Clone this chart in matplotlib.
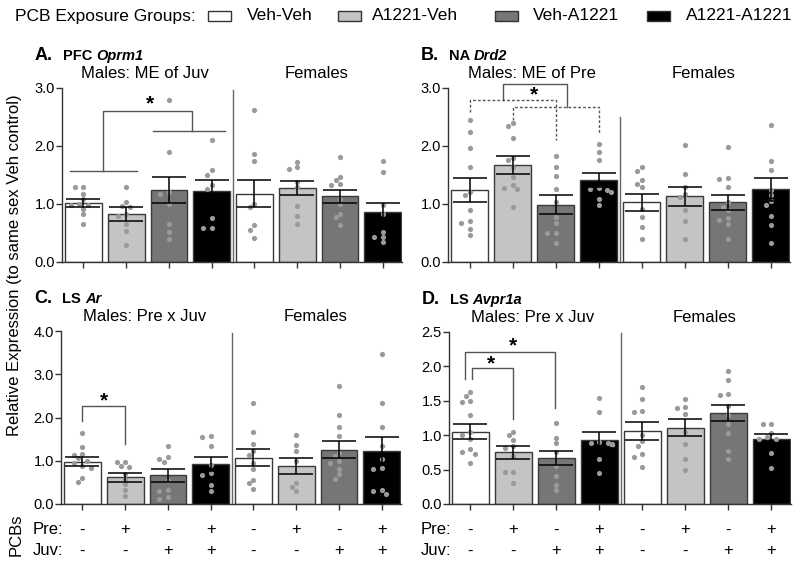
import numpy as np
import matplotlib.pyplot as plt
from matplotlib.patches import Rectangle
from matplotlib.transforms import blended_transform_factory

plt.rcParams['font.family'] = ['Liberation Sans', 'DejaVu Sans']

# groups, in bar order: males x4 then females x4
groups = ["Veh-Veh", "A1221-Veh", "Veh-A1221", "A1221-A1221"]
bar_colors = ["white", "#c4c4c4", "#767676", "black"]
pre_signs = ["-", "+", "-", "+", "-", "+", "-", "+"]
juv_signs = ["-", "-", "+", "+", "-", "-", "+", "+"]

# A. PFC Oprm1
pfc_means = [1.01, 0.82, 1.24, 1.22, 1.18, 1.28, 1.13, 0.86]
pfc_sems = [0.07, 0.12, 0.22, 0.19, 0.23, 0.12, 0.11, 0.16]
pfc_dots = [
    [1.29, 1.29, 1.18, 1.08, 1.00, 0.99, 0.99, 0.92, 0.83, 0.66],
    [1.29, 1.03, 0.96, 0.95, 0.83, 0.79, 0.66, 0.53, 0.29],
    [2.80, 1.90, 1.20, 1.18, 1.00, 0.66, 0.52, 0.39],
    [2.10, 1.58, 1.50, 1.32, 1.26, 0.76, 0.59, 0.59],
    [2.62, 1.86, 1.74, 1.00, 0.95, 0.63, 0.55, 0.42],
    [1.72, 1.63, 1.60, 1.38, 1.29, 0.96, 0.80, 0.65],
    [1.81, 1.47, 1.41, 1.35, 1.33, 1.09, 1.00, 0.83, 0.78, 0.63],
    [1.74, 1.56, 0.99, 0.83, 0.52, 0.43, 0.43, 0.34],
]

# B. NA Drd2
na_means = [1.24, 1.67, 0.99, 1.41, 1.03, 1.13, 1.03, 1.25]
na_sems = [0.20, 0.16, 0.17, 0.12, 0.15, 0.16, 0.13, 0.19]
na_dots = [
    [2.45, 2.24, 1.97, 1.63, 1.21, 1.15, 0.89, 0.71, 0.67, 0.57, 0.46],
    [2.40, 2.34, 2.14, 1.80, 1.75, 1.63, 1.47, 1.32, 1.28, 1.25, 0.95],
    [1.82, 1.64, 1.49, 1.25, 1.03, 0.78, 0.67, 0.50, 0.50, 0.32],
    [2.04, 1.90, 1.75, 1.28, 1.25, 1.24, 1.21, 1.09, 0.99],
    [1.64, 1.57, 1.41, 1.34, 1.29, 0.92, 0.78, 0.61, 0.39],
    [2.01, 1.51, 1.29, 1.17, 1.12, 0.89, 0.71, 0.39],
    [1.99, 1.45, 1.43, 1.29, 1.03, 0.95, 0.89, 0.75, 0.72, 0.66, 0.39],
    [2.36, 1.74, 1.58, 1.24, 1.15, 1.06, 0.98, 0.80, 0.63, 0.33],
]

# C. LS Ar
ar_means = [0.98, 0.62, 0.66, 0.92, 1.07, 0.88, 1.26, 1.23]
ar_sems = [0.10, 0.10, 0.14, 0.16, 0.20, 0.19, 0.19, 0.33]
ar_dots = [
    [1.65, 1.32, 1.16, 1.14, 1.06, 1.00, 0.95, 0.88, 0.84, 0.60, 0.52],
    [0.97, 0.96, 0.88, 0.86, 0.70, 0.58, 0.46, 0.33, 0.19],
    [1.34, 1.08, 1.05, 0.98, 0.55, 0.33, 0.30, 0.15, 0.12],
    [1.58, 1.55, 1.33, 0.90, 0.72, 0.68, 0.45, 0.30],
    [2.33, 1.66, 1.39, 1.22, 1.14, 0.95, 0.81, 0.56, 0.48, 0.35],
    [1.60, 1.36, 1.22, 1.00, 0.48, 0.40, 0.30],
    [2.74, 2.06, 1.79, 1.58, 1.18, 1.10, 1.00, 0.95, 0.81, 0.69, 0.58],
    [3.46, 2.33, 1.77, 1.33, 1.04, 0.83, 0.81, 0.33, 0.29, 0.23],
]

# D. LS Avpr1a
avp_means = [1.05, 0.75, 0.67, 0.93, 1.06, 1.11, 1.32, 0.95]
avp_sems = [0.11, 0.09, 0.10, 0.11, 0.13, 0.12, 0.12, 0.07]
avp_dots = [
    [1.63, 1.57, 1.50, 1.48, 1.29, 1.04, 1.00, 0.95, 0.80, 0.76, 0.73, 0.59],
    [1.05, 1.00, 0.93, 0.84, 0.82, 0.70, 0.47, 0.47, 0.30],
    [1.17, 0.96, 0.88, 0.75, 0.55, 0.40, 0.28, 0.20],
    [1.54, 1.33, 0.90, 0.89, 0.88, 0.87, 0.86, 0.66, 0.45],
    [1.70, 1.52, 1.35, 1.34, 1.00, 0.91, 0.84, 0.72, 0.69, 0.54],
    [1.53, 1.41, 1.40, 1.31, 1.05, 0.87, 0.65, 0.50],
    [1.94, 1.80, 1.60, 1.58, 1.42, 1.29, 1.16, 1.03, 0.77, 0.65],
    [1.16, 1.16, 1.03, 0.98, 0.95, 0.95, 0.74, 0.53],
]

# significance brackets: (x_left, x_right, top, left_end, right_end, linestyle)
pfc_brackets = [(-0.32, 1.25, 1.57, 1.57, 1.57, "-"), (1.63, 3.31, 2.25, 2.25, 2.25, "-"),
                (0.46, 2.53, 2.60, 1.57, 2.25, "-")]
na_brackets = [(0.0, 2.0, 2.80, 2.59, 2.10, "--"), (1.0, 3.0, 2.68, 2.44, 2.21, "--"),
               (0.77, 2.26, 3.06, 2.80, 2.68, "-")]
ar_brackets = [(0.0, 1.0, 2.27, 1.92, 1.39, "-")]
avp_brackets = [(-0.12, 1.97, 2.21, 1.81, 1.39, "-"), (0.03, 1.0, 1.98, 1.81, 1.23, "-")]
pfc_stars = [(1.55, 2.72)]
na_stars = [(1.51, 2.88)]
ar_stars = [(0.5, 2.38)]
avp_stars = [(0.99, 2.30), (0.47, 2.04)]


def swarm(vals, yratio):
    # simple deterministic spread so dots don't overlap
    order = np.argsort(vals)[::-1]
    xs = np.zeros(len(vals))
    placed = []
    cands = [0, -0.1, 0.1, -0.2, 0.2, -0.3, 0.3]
    for i in order:
        y = vals[i] * yratio
        for c in cands:
            if all((c - px) ** 2 + (y - py) ** 2 > 0.12 ** 2 for px, py in placed):
                break
        xs[i] = c
        placed.append((c, y))
    return xs


W, H = 800, 565
fig = plt.figure(figsize=(8, 5.65), dpi=100)

panels = [
    ("A.", "PFC ", "Oprm1", "Males: ME of Juv", pfc_means, pfc_sems, pfc_dots, 3.0, 1.0, 2.97,
     pfc_brackets, pfc_stars, [0.0775, 0.5363, 0.425, 0.308]),
    ("B.", "NA ", "Drd2", "Males: ME of Pre", na_means, na_sems, na_dots, 3.0, 1.0, 2.5,
     na_brackets, na_stars, [0.560, 0.5363, 0.4275, 0.308]),
    ("C.", "LS ", "Ar", "Males: Pre x Juv", ar_means, ar_sems, ar_dots, 4.0, 1.0, 3.95,
     ar_brackets, ar_stars, [0.0763, 0.108, 0.425, 0.306]),
    ("D.", "LS ", "Avpr1a", "Males: Pre x Juv", avp_means, avp_sems, avp_dots, 2.5, 0.5, 2.49,
     avp_brackets, avp_stars, [0.561, 0.108, 0.4275, 0.3044]),
]

x = np.arange(8)
for letter, region, gene, males_txt, means, sems, dots, ymax, ystep, divtop, brackets, stars, pos in panels:
    ax = fig.add_axes(pos)
    ax.bar(x, means, width=0.86, color=bar_colors * 2, edgecolor="#3a3a3a", linewidth=1.0, zorder=2)
    ax.errorbar(x, means, yerr=sems, fmt="none", ecolor="black", elinewidth=1.1,
                capsize=12, capthick=1.1, zorder=4)
    yratio = (pos[3] * H / ymax) / (pos[2] * W / 7.95)
    for i, d in enumerate(dots):
        d = np.array(d)
        ax.scatter(i + swarm(d, yratio), d, s=14, color="#9a9a9a", linewidths=0, zorder=3)
    ax.set_xlim(-0.5, 7.45)
    ax.set_ylim(0, ymax)
    ax.set_xticks(x)
    ax.set_xticklabels([])
    ticks = np.arange(0, ymax + 0.01, ystep)
    ax.set_yticks(ticks)
    ax.set_yticklabels([f"{v:.1f}" for v in ticks])
    for s in ["top", "right"]:
        ax.spines[s].set_visible(False)
    for s in ["left", "bottom"]:
        ax.spines[s].set_color("#333333")
        ax.spines[s].set_linewidth(1.0)
    ax.tick_params(axis="both", direction="out", length=4, width=1, color="#333333",
                   labelsize=10.5, pad=1)
    ax.plot([3.5, 3.5], [0, divtop], color="#666666", lw=1, clip_on=False, zorder=1)

    for x1, x2, top, l1, l2, ls in brackets:
        ax.plot([x1, x1, x2, x2], [l1, top, top, l2], color="#555555", lw=1, ls=ls,
                dashes=(2, 1.5) if ls == "--" else (None, None), clip_on=False, zorder=5)
    for sx, sy in stars:
        ax.text(sx, sy, "*", ha="center", va="center", fontsize=15, fontweight="bold")

    tr_ax = blended_transform_factory(ax.transData, ax.transAxes)
    ax.text(1.45, 1.085, males_txt, transform=tr_ax, ha="center", va="center", fontsize=12)
    ax.text(5.45, 1.085, "Females", transform=tr_ax, ha="center", va="center", fontsize=12)

    # panel title: bold letter, bold region, bold italic gene
    left_px = pos[0] * W
    title_y = pos[1] + pos[3] + 0.049
    fig.text((left_px - 27) / W, title_y, letter, ha="left", va="baseline",
             fontsize=13, fontweight="bold")
    t2 = fig.text((left_px + 1) / W, title_y, region, ha="left", va="baseline",
                  fontsize=10.5, fontweight="bold")
    ax.annotate(gene, xy=(1, 0), xycoords=t2, va="bottom", ha="left",
                fontsize=10.5, fontweight="bold", fontstyle="italic")

    if letter in ("C.", "D."):
        tr = blended_transform_factory(ax.transData, fig.transFigure)
        for k in range(8):
            ax.text(k, 0.062, pre_signs[k], transform=tr, ha="center", va="center", fontsize=12)
            ax.text(k, 0.025, juv_signs[k], transform=tr, ha="center", va="center", fontsize=12)
        ax.text(-0.8, 0.062, "Pre:", transform=tr, ha="center", va="center", fontsize=12)
        ax.text(-0.8, 0.025, "Juv:", transform=tr, ha="center", va="center", fontsize=12)

fig.text(0.018, 0.531, "Relative Expression (to same sex Veh control)", rotation=90,
         ha="center", va="center", fontsize=12)
fig.text(0.02, 0.053, "PCBs", rotation=90, ha="center", va="center", fontsize=12)

# legend row across the top
legend_y = 1 - 16 / H
fig.text(15 / W, legend_y, "PCB Exposure Groups:", ha="left", va="center", fontsize=12.5)
box_px = [208, 338, 495, 647]
label_px = [247, 372, 533, 686]
for c, g, bx, lx in zip(bar_colors, groups, box_px, label_px):
    fig.add_artist(Rectangle((bx / W, 1 - 21 / H), 23 / W, 10 / H, transform=fig.transFigure,
                             facecolor=c, edgecolor="#333333", linewidth=1))
    fig.text(lx / W, legend_y, g, ha="left", va="center", fontsize=12.5)

fig.savefig("out.png", dpi=100)
